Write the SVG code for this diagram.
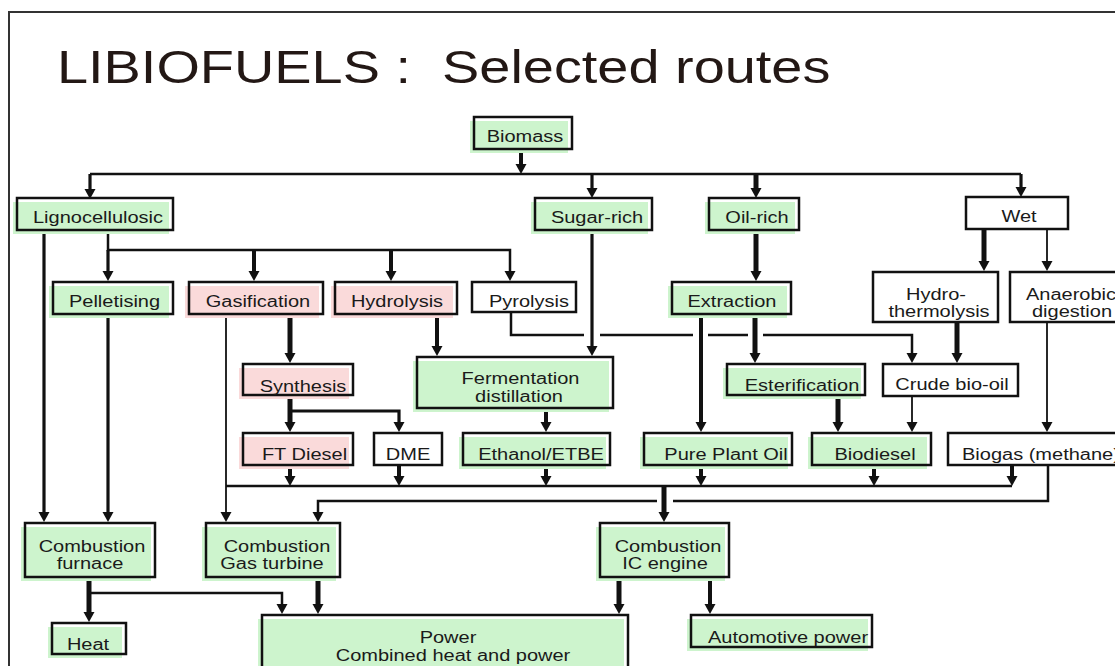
<svg xmlns="http://www.w3.org/2000/svg" width="1115" height="666" viewBox="0 0 1115 666">
<style>
.t{font-family:"Liberation Sans",Arial,sans-serif;font-size:16px;fill:#1a1a1a;text-anchor:middle}
.ts{font-family:"Liberation Sans",Arial,sans-serif;font-size:16px;fill:#1a1a1a;text-anchor:start}
.title{font-family:"Liberation Sans",Arial,sans-serif;font-size:46px;fill:#231815}
.b{fill:none;stroke:#111;stroke-width:2.5}
.w{fill:#fff;stroke:#111;stroke-width:2.5}
.g{fill:#cdf4cd}
.p{fill:#fadada}
#connectors path{fill:none;stroke:#111;stroke-linejoin:miter}
.a{marker-end:url(#ah)}
.s1{stroke-width:1.8px}
.s2{stroke-width:2.5px}
.s3{stroke-width:3.2px}
.s4{stroke-width:4px}
.s5{stroke-width:5px}
</style>
<defs>
<marker id="ah" markerUnits="userSpaceOnUse" markerWidth="12" markerHeight="12" refX="4" refY="5.5" orient="auto">
<path d="M0,0 L10,5.5 L0,11 z" fill="#111"/>
</marker>
</defs>
<rect width="1115" height="666" fill="#fff"/>
<rect x="9" y="12" width="1200" height="700" fill="none" stroke="#333" stroke-width="2"/>
<text class="title" transform="translate(57 83) scale(1.215 1)">LIBIOFUELS :&#160; Selected routes</text>

<g id="connectors">
<path class="s4 a" d="M521,150 V168"/>
<path class="s2" d="M90,174 H1021"/>
<path class="s3 a" d="M90,174 V193"/>
<path class="s3 a" d="M592,174 V192"/>
<path class="s5 a" d="M756,174 V192"/>
<path class="s3 a" d="M1021,174 V191"/>
<path class="s3 a" d="M44,231 V516"/>
<path class="s2 a" d="M108,231 V250 H510 V275"/>
<path class="s3 a" d="M108,250 V275"/>
<path class="s4 a" d="M254,250 V275"/>
<path class="s4 a" d="M391,250 V275"/>
<path class="s3 a" d="M108,315 V516"/>
<path class="s5 a" d="M290,315 V357"/>
<path class="s1 a" d="M226,315 V516"/>
<path class="s4 a" d="M437,315 V350"/>
<path class="s3 a" d="M592,231 V350"/>
<path class="s5 a" d="M756,231 V275"/>
<path class="s2" d="M511,312 V335 H584 M600,335 H693 M708,335 H748"/>
<path class="s2 a" d="M763,335 H912 V357"/>
<path class="s4 a" d="M701,315 V426"/>
<path class="s5 a" d="M755,315 V357"/>
<path class="s5 a" d="M984,229 V265"/>
<path class="s1 a" d="M1047,229 V265"/>
<path class="s5 a" d="M957,323 V357"/>
<path class="s1 a" d="M1047,323 V426"/>
<path class="s5 a" d="M290,396 V426"/>
<path class="s3 a" d="M290,411 H399 V426"/>
<path class="s4 a" d="M546,409 V426"/>
<path class="s5 a" d="M838,396 V426"/>
<path class="s1 a" d="M912,396 V426"/>
<path class="s2" d="M226,486 H1012"/>
<path class="s4 a" d="M290,466 V480"/>
<path class="s4 a" d="M399,466 V480"/>
<path class="s4 a" d="M546,466 V480"/>
<path class="s4 a" d="M701,466 V480"/>
<path class="s4 a" d="M874,466 V480"/>
<path class="s4 a" d="M1012,466 V480"/>
<path class="s5 a" d="M664,486 V516"/>
<path class="s2" d="M1048,466 V501 H673"/>
<path class="s2 a" d="M657,501 H318 V516"/>
<path class="s5 a" d="M89,578 V616"/>
<path class="s2 a" d="M89,593 H282 V608"/>
<path class="s5 a" d="M318,578 V608"/>
<path class="s5 a" d="M619,578 V608"/>
<path class="s4 a" d="M710,578 V608"/>
</g>

<g id="biomass"><rect class="g" x="470" y="121" width="98" height="32"/><rect class="b" x="474" y="117" width="98" height="32"/><text class="t" transform="translate(525 141.5) scale(1.25 1)">Biomass</text></g>
<g id="lignocellulosic"><rect class="g" x="13" y="202" width="156" height="32"/><rect class="b" x="17" y="198" width="156" height="32"/><text class="t" transform="translate(98 223) scale(1.25 1)">Lignocellulosic</text></g>
<g id="sugar-rich"><rect class="g" x="531" y="202" width="117" height="32"/><rect class="b" x="535" y="198" width="117" height="32"/><text class="t" transform="translate(597 223) scale(1.25 1)">Sugar-rich</text></g>
<g id="oil-rich"><rect class="g" x="705" y="202" width="90" height="32"/><rect class="b" x="709" y="198" width="90" height="32"/><text class="t" transform="translate(757 223) scale(1.25 1)">Oil-rich</text></g>
<g id="wet"><rect class="w" x="966" y="197" width="102" height="32"/><text class="t" transform="translate(1019 222) scale(1.25 1)">Wet</text></g>

<g id="pelletising"><rect class="g" x="49" y="286" width="120" height="32"/><rect class="b" x="53" y="282" width="120" height="32"/><text class="t" transform="translate(114.5 307) scale(1.25 1)">Pelletising</text></g>
<g id="gasification"><rect class="p" x="185" y="286" width="134" height="32"/><rect class="b" x="189" y="282" width="134" height="32"/><text class="t" transform="translate(258 307) scale(1.25 1)">Gasification</text></g>
<g id="hydrolysis"><rect class="p" x="331" y="286" width="122" height="32"/><rect class="b" x="335" y="282" width="122" height="32"/><text class="t" transform="translate(397 307) scale(1.25 1)">Hydrolysis</text></g>
<g id="pyrolysis"><rect class="w" x="472" y="282" width="104" height="30"/><text class="t" transform="translate(529 307) scale(1.25 1)">Pyrolysis</text></g>
<g id="extraction"><rect class="g" x="668" y="286" width="119" height="32"/><rect class="b" x="672" y="282" width="119" height="32"/><text class="t" transform="translate(732 307) scale(1.25 1)">Extraction</text></g>
<g id="hydrothermolysis"><rect class="w" x="873" y="272" width="125" height="50"/><text class="t" transform="translate(936 300) scale(1.25 1)">Hydro-</text><text class="t" transform="translate(939 317) scale(1.25 1)">thermolysis</text></g>
<g id="anaerobic"><rect class="w" x="1010" y="272" width="120" height="50"/><text class="t" transform="translate(1071 300) scale(1.25 1)">Anaerobic</text><text class="t" transform="translate(1072 317) scale(1.25 1)">digestion</text></g>

<g id="synthesis"><rect class="p" x="239" y="368" width="110" height="31"/><rect class="b" x="243" y="364" width="110" height="31"/><text class="t" transform="translate(303 391.5) scale(1.25 1)">Synthesis</text></g>
<g id="fermentation"><rect class="g" x="413" y="361" width="196" height="51"/><rect class="b" x="417" y="357" width="196" height="51"/><text class="t" transform="translate(520.5 384) scale(1.25 1)">Fermentation</text><text class="t" transform="translate(519 401.5) scale(1.25 1)">distillation</text></g>
<g id="esterification"><rect class="g" x="723" y="368" width="138" height="31"/><rect class="b" x="727" y="364" width="138" height="31"/><text class="t" transform="translate(802 391) scale(1.25 1)">Esterification</text></g>
<g id="crude-bio-oil"><rect class="w" x="883" y="364" width="135" height="32"/><text class="t" transform="translate(952 390) scale(1.25 1)">Crude bio-oil</text></g>

<g id="ft-diesel"><rect class="p" x="239" y="437" width="110" height="32"/><rect class="b" x="243" y="433" width="110" height="32"/><text class="t" transform="translate(304.5 460) scale(1.25 1)">FT Diesel</text></g>
<g id="dme"><rect class="w" x="374" y="433" width="68" height="32"/><text class="t" transform="translate(408 460) scale(1.25 1)">DME</text></g>
<g id="ethanol"><rect class="g" x="459" y="437" width="147" height="32"/><rect class="b" x="463" y="433" width="147" height="32"/><text class="t" transform="translate(541 460) scale(1.25 1)">Ethanol/ETBE</text></g>
<g id="pure-plant-oil"><rect class="g" x="640" y="437" width="148" height="32"/><rect class="b" x="644" y="433" width="148" height="32"/><text class="t" transform="translate(726 460) scale(1.25 1)">Pure Plant Oil</text></g>
<g id="biodiesel"><rect class="g" x="808" y="437" width="119" height="32"/><rect class="b" x="812" y="433" width="119" height="32"/><text class="t" transform="translate(875 460) scale(1.25 1)">Biodiesel</text></g>
<g id="biogas"><rect class="w" x="948" y="433" width="200" height="32"/><text class="ts" transform="translate(962 460) scale(1.25 1)">Biogas (methane)</text></g>

<g id="combustion-furnace"><rect class="g" x="21" y="527" width="130" height="54"/><rect class="b" x="25" y="523" width="130" height="54"/><text class="t" transform="translate(92 551.7) scale(1.25 1)">Combustion</text><text class="t" transform="translate(90 569) scale(1.25 1)">furnace</text></g>
<g id="combustion-gas-turbine"><rect class="g" x="202" y="527" width="134" height="54"/><rect class="b" x="206" y="523" width="134" height="54"/><text class="t" transform="translate(277 551.7) scale(1.25 1)">Combustion</text><text class="t" transform="translate(272 569) scale(1.25 1)">Gas turbine</text></g>
<g id="combustion-ic-engine"><rect class="g" x="596" y="527" width="129" height="54"/><rect class="b" x="600" y="523" width="129" height="54"/><text class="t" transform="translate(668 551.7) scale(1.25 1)">Combustion</text><text class="t" transform="translate(665 569) scale(1.25 1)">IC engine</text></g>

<g id="heat"><rect class="g" x="48" y="627" width="74" height="31"/><rect class="b" x="52" y="623" width="74" height="31"/><text class="t" transform="translate(88 650) scale(1.25 1)">Heat</text></g>
<g id="power"><rect class="g" x="258" y="619" width="366" height="70"/><rect class="b" x="262" y="615" width="366" height="70"/><text class="t" transform="translate(448 643) scale(1.25 1)">Power</text><text class="t" transform="translate(453 660.7) scale(1.25 1)">Combined heat and power</text></g>
<g id="automotive-power"><rect class="g" x="687" y="619" width="181" height="32"/><rect class="b" x="691" y="615" width="181" height="32"/><text class="ts" transform="translate(708 643) scale(1.25 1)">Automotive power</text></g>
</svg>
